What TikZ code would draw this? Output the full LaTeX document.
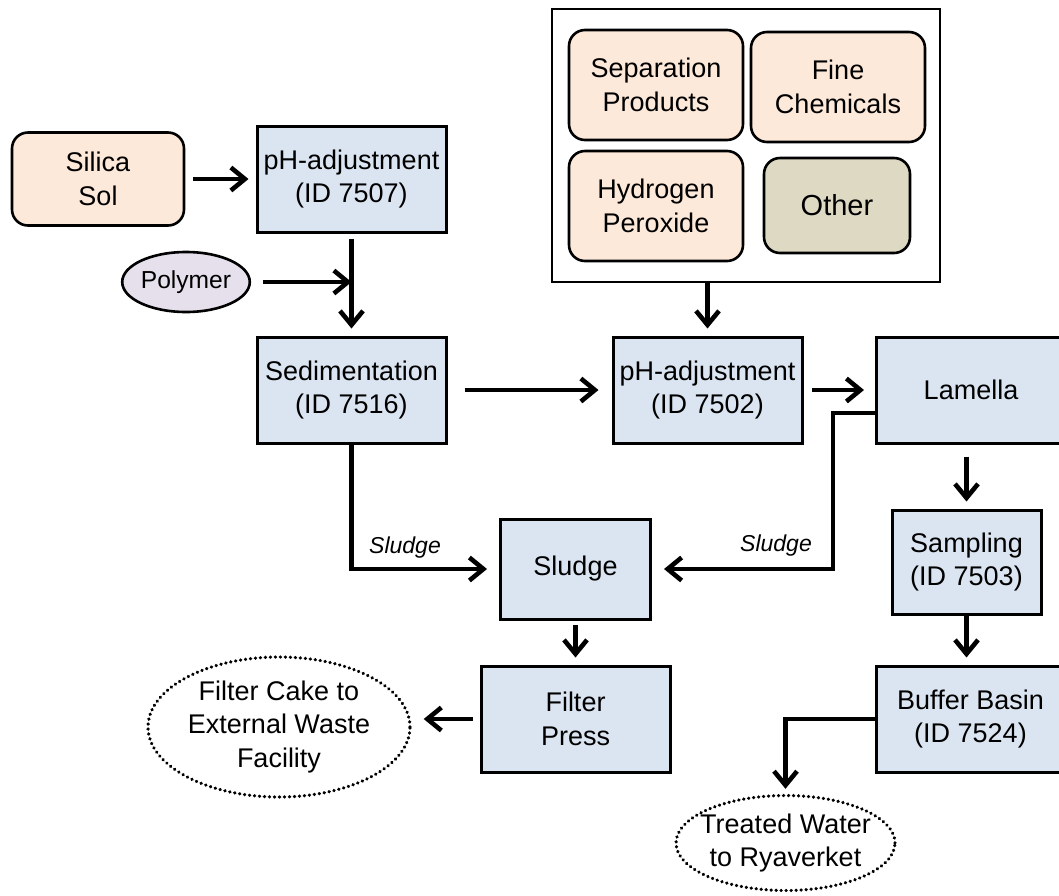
\documentclass[tikz,border=0pt]{standalone}
\usepackage{fontspec}
\setmainfont{Liberation Sans}
\usetikzlibrary{arrows.meta,shapes.geometric}
\definecolor{process}{HTML}{DBE5F1}
\definecolor{feed}{HTML}{FDE9D9}
\definecolor{additive}{HTML}{E5E0EC}
\definecolor{othersource}{HTML}{DDD9C3}

\begin{document}
\begin{tikzpicture}[x=0.5pt, y=-0.5pt]
    \tikzstyle{every node} = [font=\fontsize{13.5}{16.8}\selectfont, align=center]
    \tikzstyle{unit} = [draw, line width=1.5pt, fill=process, minimum width=94.5pt, minimum height=53pt, inner sep=0pt]
    \tikzstyle{source} = [draw, line width=1.3pt, rounded corners=8pt, fill=feed, minimum width=87pt, minimum height=55pt, inner sep=0pt]
    \tikzstyle{outlet} = [draw, ellipse, dash pattern=on 0.1pt off 2.4pt, line cap=round, line width=1.7pt, inner sep=0pt]
    \tikzstyle{flow} = [line width=2.3pt, -{Straight Barb[length=7pt, width=11.5pt]}]
    \tikzstyle{tag} = [font=\fontsize{11.5}{14}\selectfont\itshape]

    \useasboundingbox (0,0) rectangle (1059,895);

    \node[source, minimum width=86pt, minimum height=46.5pt] (silica) at (98,179) {Silica\\Sol};
    \node[unit] (ph1) at (351.5,179) {pH-adjustment\\(ID 7507)};
    \node[draw, ellipse, line width=1.3pt, fill=additive, minimum width=62pt, minimum height=30pt,
        inner sep=0pt, font=\fontsize{12.3}{14}\selectfont] (polymer) at (186,282) {Polymer};
    \node[unit] (sed) at (351.5,390) {Sedimentation\\(ID 7516)};

    \node[draw, line width=1.3pt, minimum width=194pt, minimum height=136.5pt] (sources) at (746,145.5) {};
    \node[source] (sep) at (656,85) {Separation\\Products};
    \node[source] (fine) at (838,87) {Fine\\Chemicals};
    \node[source] (h2o2) at (656,206) {Hydrogen\\Peroxide};
    \node[source, fill=othersource, minimum width=73pt, minimum height=47.5pt,
        font=\fontsize{14.5}{17}\selectfont] (other) at (837,205.5) {Other};

    \node[unit] (ph2) at (707.5,390) {pH-adjustment\\(ID 7502)};
    \node[unit] (lamella) at (971,390) {Lamella};
    \node[unit, minimum width=74.5pt, minimum height=52pt] (sampling) at (966.5,562) {Sampling\\(ID 7503)};
    \node[unit] (buffer) at (970.5,719) {Buffer Basin\\(ID 7524)};
    \node[unit, minimum width=75pt, minimum height=50pt] (sludge) at (575.5,569) {Sludge};
    \node[unit] (fpress) at (575.5,719) {Filter\\Press};
    \node[outlet, minimum width=131pt, minimum height=70pt] (cake) at (279,727) {Filter Cake to\\External Waste\\Facility};
    \node[outlet, inner xsep=-4.5pt, minimum width=109.5pt, minimum height=47.5pt] (treated) at (785.5,843) {Treated Water\\to Ryaverket};

    \node[tag] (lsludge1) at (405,548) {Sludge};
    \node[tag] (lsludge2) at (776,546) {Sludge};

    \draw[flow, shorten <=4pt, shorten >=3.5pt] (silica) -- (ph1);
    \draw[flow, shorten <=2.5pt, shorten >=3.5pt] (ph1) -- (sed);
    \draw[flow, shorten <=6pt] (polymer) -- (polymer -| ph1.south);
    \draw[flow, shorten <=8.5pt, shorten >=6.5pt] (sed) -- (ph2);
    \draw[flow, shorten >=3.5pt] (sources.south -| ph2) -- (ph2);
    \draw[flow, shorten <=4pt, shorten >=5.5pt] (ph2) -- (lamella);
    \draw[flow, shorten <=6pt, shorten >=3.5pt] (lamella.south -| sampling) -- (sampling);
    \draw[flow, shorten >=3.5pt] (sampling) -- (sampling |- buffer.north);
    \draw[flow, shorten >=6pt] (sed) |- (sludge);
    \draw[flow, shorten >=6pt] ([yshift=-11.5pt]lamella.west) -- ++(-21pt,0) |- (sludge);
    \draw[flow, shorten <=2pt, shorten >=3.5pt] (sludge) -- (fpress);
    \draw[flow, shorten <=3.5pt, shorten >=6pt] (fpress) -- (fpress -| cake.east);
    \draw[flow, shorten >=2.5pt] (buffer) -| (treated);
\end{tikzpicture}
\end{document}
